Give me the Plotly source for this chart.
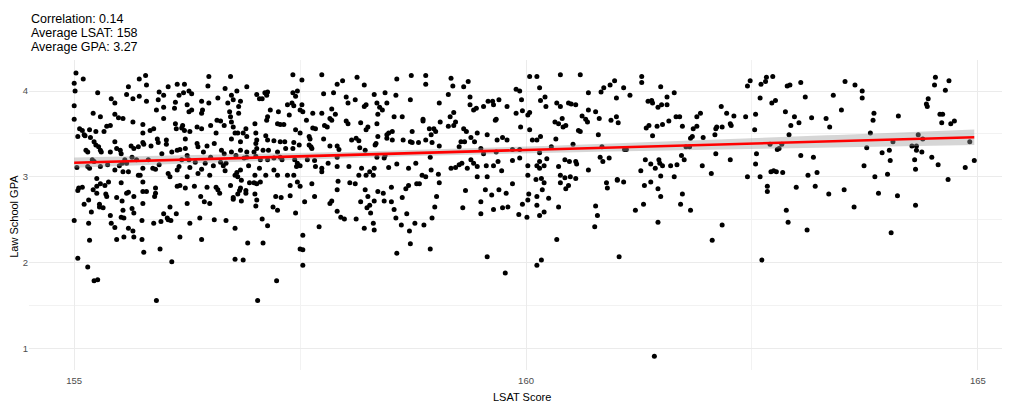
import numpy as np
import plotly.graph_objects as go

# ---- summary values shown in the top-left text ----
correlation = 0.14
avg_lsat = 158
avg_gpa = 3.27

# ---- axis ticks ----
x_ticks = [155, 160, 165]
y_ticks = [1, 2, 3, 4]

upper_left = [
    (155.02,4.21),(155.00,4.09),(155.10,4.14),(155.01,4.00),(155.00,3.83),(155.00,3.67),(155.26,3.98),
    (155.60,4.05),(155.72,4.14),(155.79,4.18),(155.80,4.07),(155.41,3.91),(155.45,3.86),(155.58,3.96),
    (155.65,3.91),(155.72,3.94),(155.80,3.88),(155.94,3.99),(155.99,3.95),(155.93,3.90),(155.91,3.78),
    (155.99,3.81),(156.04,4.05),(156.14,4.08),(156.22,4.08),(156.16,3.95),(156.21,3.98),(156.27,4.00),
    (156.30,3.97),(156.12,3.87),(156.11,3.80),(156.25,3.84),(156.30,3.78),(156.27,3.76),(156.41,3.88),
    (156.49,4.17),(156.48,4.06),(156.49,3.86),(156.42,3.78),(156.41,3.74),(156.59,3.92),(156.67,4.03),
    (156.73,4.17),(156.74,3.95),(156.80,4.00),(156.91,4.05),(156.76,3.90),(156.84,3.88),(156.82,3.82),
    (156.70,3.86),(156.72,3.76),(156.73,3.70),(156.74,3.64),(156.82,3.74),(155.45,3.73),(155.49,3.69),
    (155.54,3.68),(155.21,3.74),(155.29,3.70),(155.65,3.64),(155.76,3.61),(155.88,3.56),(155.84,3.54),
    (155.76,3.51),(155.99,3.68),(156.12,3.62),(156.20,3.60),(156.19,3.57),(156.22,3.54),(156.13,3.56),
    (156.28,3.53),(156.36,3.58),(156.41,3.56),(156.51,3.60),(156.58,3.66),(156.62,3.65),(156.57,3.51),
    (156.66,3.60),(156.76,3.58),(156.78,3.51),(156.81,3.51),(156.74,3.44),(156.84,3.41),(156.91,3.47),
    (156.87,3.51),(155.36,3.59),(155.40,3.60),(155.06,3.56),(155.09,3.54),(155.04,3.47),(155.17,3.55),
    (155.11,3.49),(155.12,3.48),(155.24,3.53),(155.33,3.53),(155.18,3.46),(155.22,3.41),(155.24,3.37),
    (155.13,3.31),(155.15,3.29),(155.27,3.35),(155.29,3.31),(155.30,3.29),(155.45,3.41),(155.47,3.33),
    (155.40,3.29),(155.51,3.31),(155.52,3.27),(155.63,3.36),(155.66,3.33),(155.71,3.35),(155.77,3.38),
    (155.76,3.40),(155.85,3.36),(155.92,3.44),(155.93,3.40),(156.02,3.43),(156.02,3.38),(155.97,3.27),
    (156.08,3.29),(156.14,3.31),(156.17,3.32),(156.23,3.33),(156.25,3.25),(156.23,3.44),(156.36,3.39),
    (156.37,3.35),(156.43,3.29),(156.47,3.36),(156.55,3.39),(156.63,3.31),(156.66,3.27),(156.74,3.29),
    (156.79,3.25),(156.84,3.31),(156.91,3.29),(155.03,3.11),(155.15,3.12),(155.17,3.10),(155.20,3.20),
    (155.22,3.18),(155.29,3.12),(155.25,2.98),(155.37,3.14),(155.45,3.08),(155.50,3.13),(155.53,3.16),
    (155.56,3.20),(155.58,3.16),(155.54,3.06),(155.60,3.06),(155.64,3.23),(155.69,3.20),(155.71,3.02),
    (155.73,3.02),(155.76,3.10),(155.82,3.20),(155.90,3.09),(155.87,3.10),(155.94,3.14),(156.04,3.04),
    (156.06,3.00),(156.14,3.08),(156.16,3.12),(156.19,3.20),(156.27,3.20),(156.28,3.11),(156.34,3.17),
    (156.25,3.00),(156.37,3.04),(156.41,3.09),(156.45,3.16),(156.51,3.23),(156.54,3.13),(156.50,3.02),
    (156.62,3.17),(156.65,3.13),(156.68,3.16),(156.67,3.07),(156.78,3.02),(156.80,3.05),(156.81,3.00),
    (156.84,3.08),(156.93,3.13),
]

upper_mid_left = [
    (157.02,3.96),(157.05,3.91),(157.08,3.91),(157.11,3.98),(157.14,3.99),(157.13,3.95),(157.42,4.19),
    (157.52,4.13),(157.47,4.00),(157.42,3.98),(157.45,3.94),(157.36,3.84),(157.41,3.86),(157.43,3.83),
    (157.52,3.84),(157.17,3.78),(157.26,3.76),(157.38,3.72),(157.50,3.78),(157.53,3.76),(157.64,3.74),
    (157.74,4.19),(157.91,4.08),(157.97,4.12),(157.76,3.97),(157.87,3.98),(158.13,4.16),(158.21,4.07),
    (158.01,3.93),(158.03,3.86),(158.11,3.90),(158.32,3.96),(158.44,3.98),(158.56,3.95),(158.57,4.14),
    (158.73,4.18),(158.89,4.18),(158.89,4.08),(158.72,3.90),(158.21,3.82),(158.23,3.84),(158.35,3.86),
    (158.46,3.86),(158.38,3.81),(158.41,3.78),(157.85,3.79),(157.74,3.74),(157.89,3.73),(157.14,3.70),
    (157.13,3.66),(157.25,3.62),(157.00,3.62),(157.28,3.61),(157.32,3.61),(156.90,3.56),(157.45,3.55),
    (157.50,3.51),(157.57,3.66),(157.64,3.57),(157.67,3.56),(157.77,3.60),(157.80,3.58),(157.85,3.66),
    (157.83,3.68),(158.01,3.65),(158.03,3.62),(158.17,3.63),(158.25,3.58),(158.23,3.55),(158.36,3.73),
    (158.35,3.62),(158.54,3.70),(158.63,3.70),(158.36,3.47),(158.46,3.49),(158.48,3.51),(158.52,3.53),
    (158.46,3.45),(158.72,3.41),(158.74,3.53),(158.86,3.67),(158.86,3.65),(158.93,3.56),(158.98,3.56),
    (159.00,3.53),(159.04,3.86),(159.05,3.64),(159.14,3.96),(159.17,4.15),(159.19,4.06),(159.36,4.11),
    (159.31,4.05),(159.38,3.93),(159.38,3.84),(159.16,3.70),(159.14,3.59),(159.20,3.75),(159.22,3.64),
    (159.20,3.60),(159.42,3.78),(159.45,3.80),(159.58,3.88),(159.53,3.82),(159.31,3.56),(159.34,3.53),
    (159.46,3.51),(159.39,3.46),(159.28,3.41),(159.32,3.41),(159.57,3.49),(157.01,3.51),(157.02,3.43),
    (157.12,3.48),(157.14,3.43),(157.21,3.42),(157.28,3.41),(157.33,3.41),(157.43,3.40),(157.01,3.39),
    (157.02,3.33),(156.99,3.29),(157.09,3.31),(157.15,3.31),(157.25,3.29),(157.34,3.33),(157.42,3.33),
    (157.49,3.37),(157.60,3.47),(157.61,3.44),(157.62,3.35),(157.60,3.37),(157.63,3.33),(157.76,3.44),
    (157.83,3.36),(157.91,3.36),(157.93,3.32),(158.07,3.43),(158.12,3.45),(158.15,3.42),(158.16,3.34),
    (158.22,3.31),(158.33,3.37),(158.34,3.39),(158.52,3.43),(158.64,3.43),(158.74,3.40),(158.81,3.40),
    (158.89,3.43),(158.95,3.49),(158.96,3.40),(159.04,3.36),(159.26,3.35),(159.43,3.41),(159.50,3.33),
    (156.88,3.22),(156.91,3.23),(157.01,3.24),(157.06,3.20),(157.14,3.20),(157.21,3.22),(157.28,3.23),
    (157.30,3.20),(157.44,3.20),(157.47,3.16),(157.46,3.12),(157.50,3.13),(157.58,3.20),(157.66,3.19),
    (157.67,3.12),(157.74,3.10),(157.74,3.06),(157.81,3.16),(157.91,3.23),(157.91,3.12),(158.04,3.12),
    (158.18,3.10),(158.15,3.02),(158.23,3.02),(158.27,3.06),(158.31,3.02),(158.32,3.10),(158.35,3.23),
    (158.43,3.22),(158.44,3.25),(158.48,3.11),(158.57,3.15),(158.70,3.10),(158.78,3.16),(158.85,3.02),
    (158.89,3.00),(158.94,3.23),(158.95,3.08),(159.03,3.03),(159.17,3.10),(159.22,3.11),(159.26,3.14),
    (159.29,3.16),(159.35,3.10),(159.39,3.20),(159.42,3.16),(159.46,3.12),(159.57,3.00),(159.46,3.00),
    (157.05,3.10),(157.12,3.02),(157.21,3.08),(157.25,3.02),(157.36,3.02),(157.43,3.02),(157.00,3.02),
]

upper_mid_right = [
    (159.64,3.84),(159.63,3.88),(159.70,3.90),(159.66,3.66),(159.67,3.67),(159.79,3.82),(159.89,4.02),
    (159.93,4.00),(159.95,3.90),(159.96,3.77),(159.89,3.74),(160.02,3.72),(160.04,3.75),(160.04,4.17),
    (160.12,4.17),(160.15,4.04),(160.16,3.89),(160.21,3.93),(160.22,3.82),(160.38,4.19),(160.60,4.19),
    (160.34,3.86),(160.38,3.82),(160.47,3.86),(160.50,3.85),(160.55,3.84),(160.69,3.98),(160.62,3.71),
    (160.69,3.78),(160.77,3.76),(160.83,3.99),(160.86,4.04),(160.93,4.07),(160.98,4.12),(161.00,3.92),
    (161.08,4.04),(161.15,3.95),(161.28,4.17),(161.28,4.10),(161.49,4.05),(161.64,3.98),(161.56,3.93),
    (161.35,3.88),(161.39,3.89),(161.40,3.86),(161.50,3.84),(161.56,3.84),(161.46,3.81),(161.93,3.74),
    (161.89,3.70),(161.66,3.70),(161.70,3.70),(161.58,3.65),(161.51,3.61),(161.45,3.59),(161.33,3.57),
    (161.36,3.60),(161.40,3.48),(161.73,3.59),(161.89,3.59),(161.85,3.56),(161.84,3.47),(161.82,3.45),
    (161.96,3.46),(162.10,3.56),(162.11,3.58),(162.09,3.49),(160.32,3.64),(160.36,3.62),(160.41,3.58),
    (160.44,3.60),(160.40,3.68),(160.58,3.54),(160.60,3.53),(160.66,3.67),(160.68,3.64),(160.81,3.68),
    (160.94,3.66),(161.00,3.70),(161.02,3.63),(159.94,3.58),(160.04,3.55),(160.07,3.43),(160.12,3.43),
    (160.16,3.47),(160.33,3.44),(159.68,3.43),(159.74,3.46),(159.79,3.43),(160.52,3.38),(160.80,3.49),
    (160.84,3.35),(161.09,3.32),(161.11,3.32),(161.77,3.35),(161.81,3.35),(159.53,3.27),(159.67,3.29),
    (159.85,3.32),(159.93,3.32),(160.28,3.35),(160.15,3.28),(159.85,3.19),(159.56,3.13),(159.64,3.13),
    (159.69,3.18),(159.73,3.07),(159.93,3.22),(160.02,3.13),(160.12,3.13),(160.15,3.10),(160.20,3.13),
    (160.23,3.21),(160.15,3.18),(160.36,3.12),(160.43,3.20),(160.48,3.18),(160.55,3.18),(160.56,3.15),
    (160.69,3.08),(160.82,3.23),(160.85,3.18),(160.92,3.22),(161.32,3.20),(161.38,3.15),(161.47,3.20),
    (161.48,3.16),(161.51,3.13),(161.43,3.10),(161.27,3.07),(161.60,3.13),(161.67,3.14),(161.75,3.20),
    (161.72,3.25),(161.95,3.13),(162.10,3.27),(162.05,3.04),(161.49,3.01),(161.64,3.00),(160.38,3.02),
    (160.43,2.99),(160.49,3.00),(160.55,2.98),(160.02,3.02),(160.11,2.97),(160.17,2.98),(161.01,2.97),
]

upper_right = [
    (162.16,3.82),(162.17,3.58),(162.22,3.74),(162.26,3.62),(162.27,3.60),(162.30,3.71),(162.26,3.20),
    (162.45,4.06),(162.48,4.12),(162.43,3.70),(162.54,3.73),(162.53,3.55),(162.55,3.27),(162.54,3.15),
    (162.59,3.00),(162.45,3.00),(162.59,3.92),(162.60,4.08),(162.65,4.11),(162.66,4.16),(162.73,4.17),
    (162.72,3.86),(162.76,3.89),(162.89,4.06),(162.92,4.07),(163.04,4.10),(163.09,3.93),(162.87,3.76),
    (162.97,3.70),(162.93,3.60),(163.02,3.63),(162.91,3.49),(162.70,3.38),(162.78,3.32),(162.80,3.33),
    (162.83,3.38),(163.04,3.25),(163.18,3.23),(162.71,3.06),(162.74,3.07),(162.77,3.06),(162.84,3.05),
    (163.12,3.02),(163.22,3.05),(163.16,3.69),(163.32,3.68),(163.36,3.58),(163.40,3.95),(163.49,3.78),
    (163.53,4.11),(163.64,4.07),(163.72,4.00),(163.72,3.92),(163.85,3.74),(163.84,3.66),(163.81,3.51),
    (163.77,3.34),(163.74,3.13),(163.86,3.00),(163.94,3.28),(164.02,3.31),(164.03,3.19),(164.00,3.03),
    (164.06,3.41),(164.12,3.71),(164.27,3.36),(164.32,3.36),(164.32,3.31),(164.30,3.20),(164.38,3.29),
    (164.31,3.09),(164.34,3.49),(164.39,3.44),(164.43,3.85),(164.44,3.82),(164.45,3.91),(164.49,3.23),
    (164.52,4.07),(164.53,4.16),(164.56,3.14),(164.58,3.73),(164.61,3.73),(164.60,3.63),(164.64,4.01),
    (164.68,4.12),(164.70,3.62),(164.74,3.65),(164.86,3.11),(164.91,3.41),(164.96,3.19),(164.67,2.97),
]

lower_left = [
    (155.00,2.49),(155.04,2.05),(155.15,1.95),(155.22,1.79),(155.26,1.80),(155.04,2.84),(155.05,2.87),
    (155.09,2.88),(155.11,2.68),(155.16,2.73),(155.19,2.59),(155.16,2.46),(155.17,2.26),(155.21,2.85),
    (155.25,2.89),(155.25,2.81),(155.28,2.68),(155.28,2.65),(155.32,2.64),(155.29,2.92),(155.34,2.90),
    (155.35,2.80),(155.36,2.77),(155.38,2.94),(155.40,2.55),(155.41,2.46),(155.45,2.41),(155.47,2.76),
    (155.47,2.27),(155.53,2.72),(155.52,2.93),(155.54,2.61),(155.52,2.53),(155.55,2.52),(155.55,2.30),
    (155.58,2.81),(155.60,2.82),(155.60,2.40),(155.65,2.37),(155.66,2.58),(155.64,2.63),(155.66,2.77),
    (155.66,2.30),(155.75,2.49),(155.75,2.27),(155.76,2.69),(155.77,2.12),(155.76,2.83),(155.80,2.83),
    (155.76,2.94),(155.88,2.46),(155.89,2.77),(155.90,2.81),(155.90,2.87),(155.95,2.16),(155.96,2.48),
    (155.99,2.57),(156.03,2.52),(156.04,2.50),(156.06,2.65),(156.07,2.49),(156.08,2.01),(156.13,2.57),
    (156.17,2.30),(156.14,2.89),(156.17,2.90),(156.23,2.87),(156.25,2.69),(156.28,2.46),(156.33,2.89),
    (156.39,2.52),(156.40,2.77),(156.41,2.27),(156.44,2.71),(156.47,2.88),(156.50,2.69),(156.55,2.50),
    (156.57,2.88),(156.59,2.85),(156.61,2.81),(156.68,2.49),(156.73,2.90),(156.76,2.76),(156.76,2.74),
    (156.78,2.40),(156.78,2.04),(156.81,2.80),(156.83,2.84),(156.85,2.72),(156.87,2.03),(156.84,2.87),
    (156.85,2.96),(156.90,2.84),(156.90,2.81),(156.92,2.23),(155.91,1.56),(157.03,1.56),
]

lower_mid_left = [
    (156.94,2.93),(156.99,2.93),(157.02,2.92),(157.06,2.94),(157.00,2.80),(157.02,2.73),(157.01,2.66),
    (157.08,2.51),(157.14,2.43),(157.09,2.23),(157.24,1.79),(157.20,2.65),(157.25,2.61),(157.23,2.77),
    (157.29,2.76),(157.39,2.90),(157.39,2.78),(157.45,2.58),(157.47,2.94),(157.50,2.89),(157.50,2.16),
    (157.53,2.15),(157.53,2.32),(157.53,1.97),(157.55,2.71),(157.63,2.92),(157.66,2.77),(157.71,2.42),
    (157.83,2.69),(157.85,2.72),(157.91,2.85),(157.92,2.95),(157.91,2.60),(157.95,2.53),(157.99,2.51),
    (158.05,2.93),(158.11,2.92),(158.12,2.51),(158.17,2.71),(158.21,2.40),(158.22,2.85),(158.24,2.64),
    (158.25,2.77),(158.27,2.67),(158.28,2.58),(158.31,2.46),(158.32,2.72),(158.32,2.38),(158.36,2.83),
    (158.42,2.81),(158.43,2.72),(158.51,2.88),(158.51,2.71),(158.54,2.62),(158.56,2.52),(158.57,2.11),
    (158.63,2.76),(158.62,2.44),(158.67,2.86),(158.68,2.57),(158.71,2.37),(158.72,2.22),(158.70,2.90),
    (158.79,2.92),(158.82,2.92),(158.77,2.46),(158.87,2.44),(158.94,2.16),(158.96,2.52),(158.99,2.65),
    (159.01,2.77),(159.04,2.93),(159.30,2.64),(159.33,2.84),(159.50,2.71),(159.50,2.57),(159.55,2.85),
    (159.57,2.07),
]

lower_mid_right = [
    (159.62,2.79),(159.64,2.62),(159.70,2.85),(159.74,2.64),(159.78,2.81),(159.80,2.65),(159.85,2.92),
    (159.77,1.88),(159.92,2.56),(159.96,2.68),(160.01,2.53),(160.02,2.73),(160.03,2.80),(160.12,2.77),
    (160.12,2.67),(160.15,2.55),(160.20,2.59),(160.18,2.85),(160.20,2.93),(160.25,2.75),(160.34,2.27),
    (160.12,1.97),(160.17,2.03),(160.36,2.65),(160.38,2.93),(160.44,2.86),(160.47,2.90),(160.76,2.42),
    (160.77,2.66),(160.79,2.55),(160.89,2.93),(160.90,2.87),(161.01,2.96),(161.08,2.94),(161.03,2.07),
    (161.21,2.61),(161.30,2.68),(161.31,2.90),(161.38,2.94),(161.46,2.86),(161.49,2.77),(161.46,2.47),
    (161.71,2.68),(161.73,2.80),(161.82,2.61),(162.06,2.26),(162.17,2.44),(161.42,0.91),
]

lower_right = [
    (162.67,2.89),(162.67,2.83),(162.88,2.61),(162.90,2.47),(162.61,2.03),(162.99,2.88),(163.11,2.38),
    (163.20,2.89),(163.35,2.80),(163.52,2.85),(163.63,2.65),(163.90,2.81),(164.04,2.35),(164.11,2.78),
    (164.31,2.67),
]

regions = [upper_left, upper_mid_left, upper_mid_right, upper_right,
           lower_left, lower_mid_left, lower_mid_right, lower_right]
lsat = np.array([p[0] for r in regions for p in r])
gpa = np.array([p[1] for r in regions for p in r])

# ---- linear fit with 95% confidence band (like geom_smooth(method="lm")) ----
n = len(lsat)
slope, intercept = np.polyfit(lsat, gpa, 1)
xs = np.linspace(lsat.min(), lsat.max(), 80)
fit = intercept + slope * xs
resid = gpa - (intercept + slope * lsat)
s = np.sqrt((resid ** 2).sum() / (n - 2))
sxx = ((lsat - lsat.mean()) ** 2).sum()
se = s * np.sqrt(1.0 / n + (xs - lsat.mean()) ** 2 / sxx)
upper = fit + 1.96 * se
lower = fit - 1.96 * se

FONT = "Liberation Sans, Arial, sans-serif"

fig = go.Figure()
fig.add_trace(go.Scatter(x=lsat, y=gpa, mode="markers",
                         marker=dict(color="black", size=5, line=dict(width=0)),
                         hoverinfo="skip"))
fig.add_trace(go.Scatter(x=np.concatenate([xs, xs[::-1]]),
                         y=np.concatenate([upper, lower[::-1]]),
                         fill="toself", fillcolor="rgba(153,153,153,0.4)",
                         line=dict(width=0), mode="lines", hoverinfo="skip"))
fig.add_trace(go.Scatter(x=xs, y=fit, mode="lines",
                         line=dict(color="#FF0000", width=2.6), hoverinfo="skip"))

# the page body adds an 8px offset, so the figure is 8px smaller and margins shifted
fig.update_layout(
    width=1002, height=396,
    margin=dict(l=21, r=5, t=52, b=34),
    plot_bgcolor="white", paper_bgcolor="white",
    showlegend=False,
    font=dict(family=FONT, color="black"),
)
fig.update_xaxes(
    range=[154.5, 165.3], tickvals=x_ticks, ticktext=[str(v) for v in x_ticks],
    showgrid=True, gridcolor="#EBEBEB", gridwidth=1, zeroline=False, showline=False,
    ticks="", tickfont=dict(size=9.5, color="#4D4D4D"), automargin=False,
    ticklabelstandoff=3,
    minor=dict(dtick=2.5, tick0=155, showgrid=True, gridcolor="#F2F2F2", gridwidth=0.6),
)
fig.update_yaxes(
    range=[0.749, 4.362], tickvals=y_ticks, ticktext=[str(v) for v in y_ticks],
    showgrid=True, gridcolor="#EBEBEB", gridwidth=1, zeroline=False, showline=False,
    ticks="", tickfont=dict(size=9.5, color="#4D4D4D"), automargin=False,
    minor=dict(dtick=0.5, tick0=1, showgrid=True, gridcolor="#F2F2F2", gridwidth=0.6),
)

lines = [f"Correlation: {correlation}", f"Average LSAT: {avg_lsat}", f"Average GPA: {avg_gpa}"]
for i, txt in enumerate(lines):
    fig.add_annotation(text=txt, xref="paper", yref="paper", x=0.0, y=1.132 - i * 0.0445,
                       xanchor="left", yanchor="middle", showarrow=False,
                       font=dict(size=12.5, color="black", family=FONT))

fig.add_annotation(text="LSAT Score", xref="paper", yref="paper", x=0.505, y=-0.087,
                   xanchor="center", yanchor="middle", showarrow=False,
                   font=dict(size=11, color="black", family=FONT))
fig.add_annotation(text="Law School GPA", xref="paper", yref="paper", x=-0.0155, y=0.497,
                   xanchor="center", yanchor="middle", textangle=-90, showarrow=False,
                   font=dict(size=11, color="black", family=FONT))

fig.write_html("out.html")
